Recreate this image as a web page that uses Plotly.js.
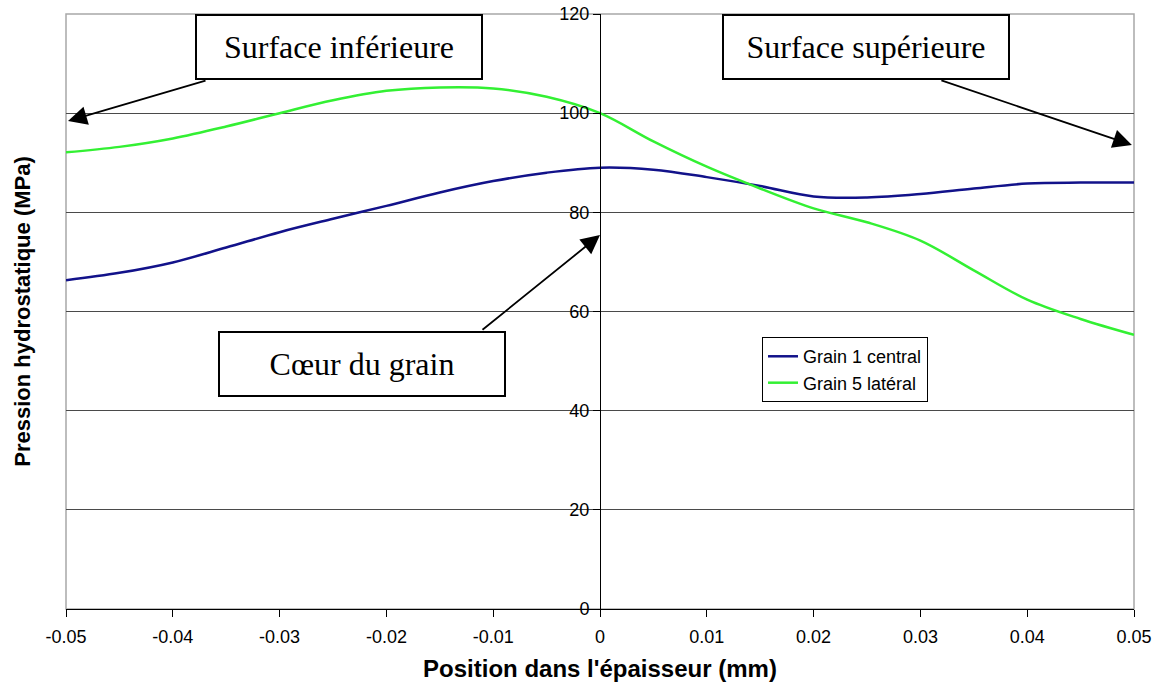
<!DOCTYPE html>
<html>
<head>
<meta charset="utf-8">
<script src="https://cdn.plot.ly/plotly-3.0.1.min.js"></script>
<style>html,body{margin:0;padding:0;background:#fff;}#chart{width:1162px;height:691px;}</style>
</head>
<body>
<div id="chart"></div>
<script>
// Position dans l'épaisseur (mm)
const positions = [-0.05,-0.045,-0.04,-0.035,-0.03,-0.025,-0.02,-0.015,-0.01,-0.005,0,0.005,0.01,0.015,0.02,0.025,0.03,0.035,0.04,0.045,0.05];
// Grain 1 central (MPa)
const grain1Central = [66.3,67.8,69.9,72.9,76.0,78.7,81.3,84.0,86.3,88.0,89.0,88.6,87.1,85.3,83.2,83.0,83.7,84.8,85.8,86.0,86.0];
// Grain 5 latéral (MPa)
const grain5Lateral = [92.1,93.2,94.9,97.3,100.0,102.6,104.5,105.2,105.0,103.3,100.0,94.3,89.2,84.8,80.8,78.0,74.3,68.3,62.4,58.5,55.3];

const xTickVals = [-0.05,-0.04,-0.03,-0.02,-0.01,0,0.01,0.02,0.03,0.04,0.05];
const xTickText = ["-0.05","-0.04","-0.03","-0.02","-0.01","0","0.01","0.02","0.03","0.04","0.05"];
const yTickVals = [0,20,40,60,80,100,120];
const yTickText = ["0","20","40","60","80","100","120"];

const traces = [
  {x: positions, y: grain1Central, name: 'Grain 1 central', type: 'scatter', mode: 'lines',
   line: {color: '#12128a', width: 2.5, shape: 'spline', smoothing: 1}},
  {x: positions, y: grain5Lateral, name: 'Grain 5 latéral', type: 'scatter', mode: 'lines',
   line: {color: '#33f033', width: 2.5, shape: 'spline', smoothing: 1}}
];

const sans = 'Liberation Sans, Arial, sans-serif';
const boxFont = {family: 'Liberation Serif, Times New Roman, serif', size: 32, color: '#000'};
function box(text, x, y) {
  return {text: text, xref: 'paper', yref: 'paper', x: x, y: y, xanchor: 'center', yanchor: 'middle',
    showarrow: false, font: boxFont, bgcolor: '#fff', bordercolor: '#000', borderwidth: 2,
    borderpad: 0, width: 284, height: 62, align: 'center', valign: 'middle'};
}
function arrow(x, y, ax, ay) {
  return {text: '', xref: 'paper', yref: 'paper', x: x, y: y, ax: ax, ay: ay, axref: 'pixel', ayref: 'pixel',
    showarrow: true, arrowhead: 2, arrowsize: 2.1, arrowwidth: 1.8, arrowcolor: '#000', standoff: 0};
}

const layout = {
  width: 1162, height: 691,
  margin: {l: 66, r: 28, t: 14, b: 82},
  paper_bgcolor: '#fff', plot_bgcolor: '#fff',
  showlegend: true,
  legend: {x: 0.6517, y: 0.457, xanchor: 'left', yanchor: 'top', bgcolor: '#fff',
    bordercolor: '#000', borderwidth: 1, font: {family: sans, size: 18, color: '#000'},
    tracegroupgap: 0, itemwidth: 30},
  xaxis: {range: [-0.05, 0.05], tickvals: xTickVals, ticktext: xTickText, showgrid: false, zeroline: false,
    showline: true, linecolor: '#000', linewidth: 1, ticks: 'outside', ticklen: 7, tickcolor: '#000',
    ticklabelstandoff: 4,
    tickfont: {family: sans, size: 18, color: '#000'},
    title: {text: "Position dans l'épaisseur (mm)", standoff: 14,
      font: {family: sans, size: 24, color: '#000', weight: 'bold'}}},
  yaxis: {range: [0, 120], tickvals: yTickVals, ticktext: yTickText, anchor: 'free', position: 0.5,
    showgrid: true, gridcolor: '#4a4a4a', gridwidth: 1, zeroline: false,
    showline: true, linecolor: '#000', linewidth: 1, ticks: 'outside', ticklen: 7, tickcolor: '#000',
    tickfont: {family: sans, size: 18, color: '#000'}},
  shapes: [
    {type: 'rect', xref: 'paper', yref: 'paper', x0: 0, x1: 1, y0: 0, y1: 1,
     line: {color: '#a8a8a8', width: 1.5}, layer: 'below'}
  ],
  annotations: [
    {text: 'Pression hydrostatique (MPa)', xref: 'paper', yref: 'paper', x: -0.041, y: 0.5,
     xanchor: 'center', yanchor: 'middle', textangle: -90, showarrow: false,
     font: {family: sans, size: 22, color: '#000', weight: 'bold'}},
    arrow(0.0019, 0.820, 139, -41),
    arrow(0.998, 0.780, -192, -65),
    arrow(0.5, 0.6286, -119, 96),
    box('Surface inférieure', 0.2552, 0.9437),
    box('Surface supérieure', 0.7495, 0.9437),
    box('Cœur du grain', 0.2772, 0.4126)
  ]
};

Plotly.newPlot('chart', traces, layout, {displayModeBar: false, staticPlot: true});
</script>
</body>
</html>
